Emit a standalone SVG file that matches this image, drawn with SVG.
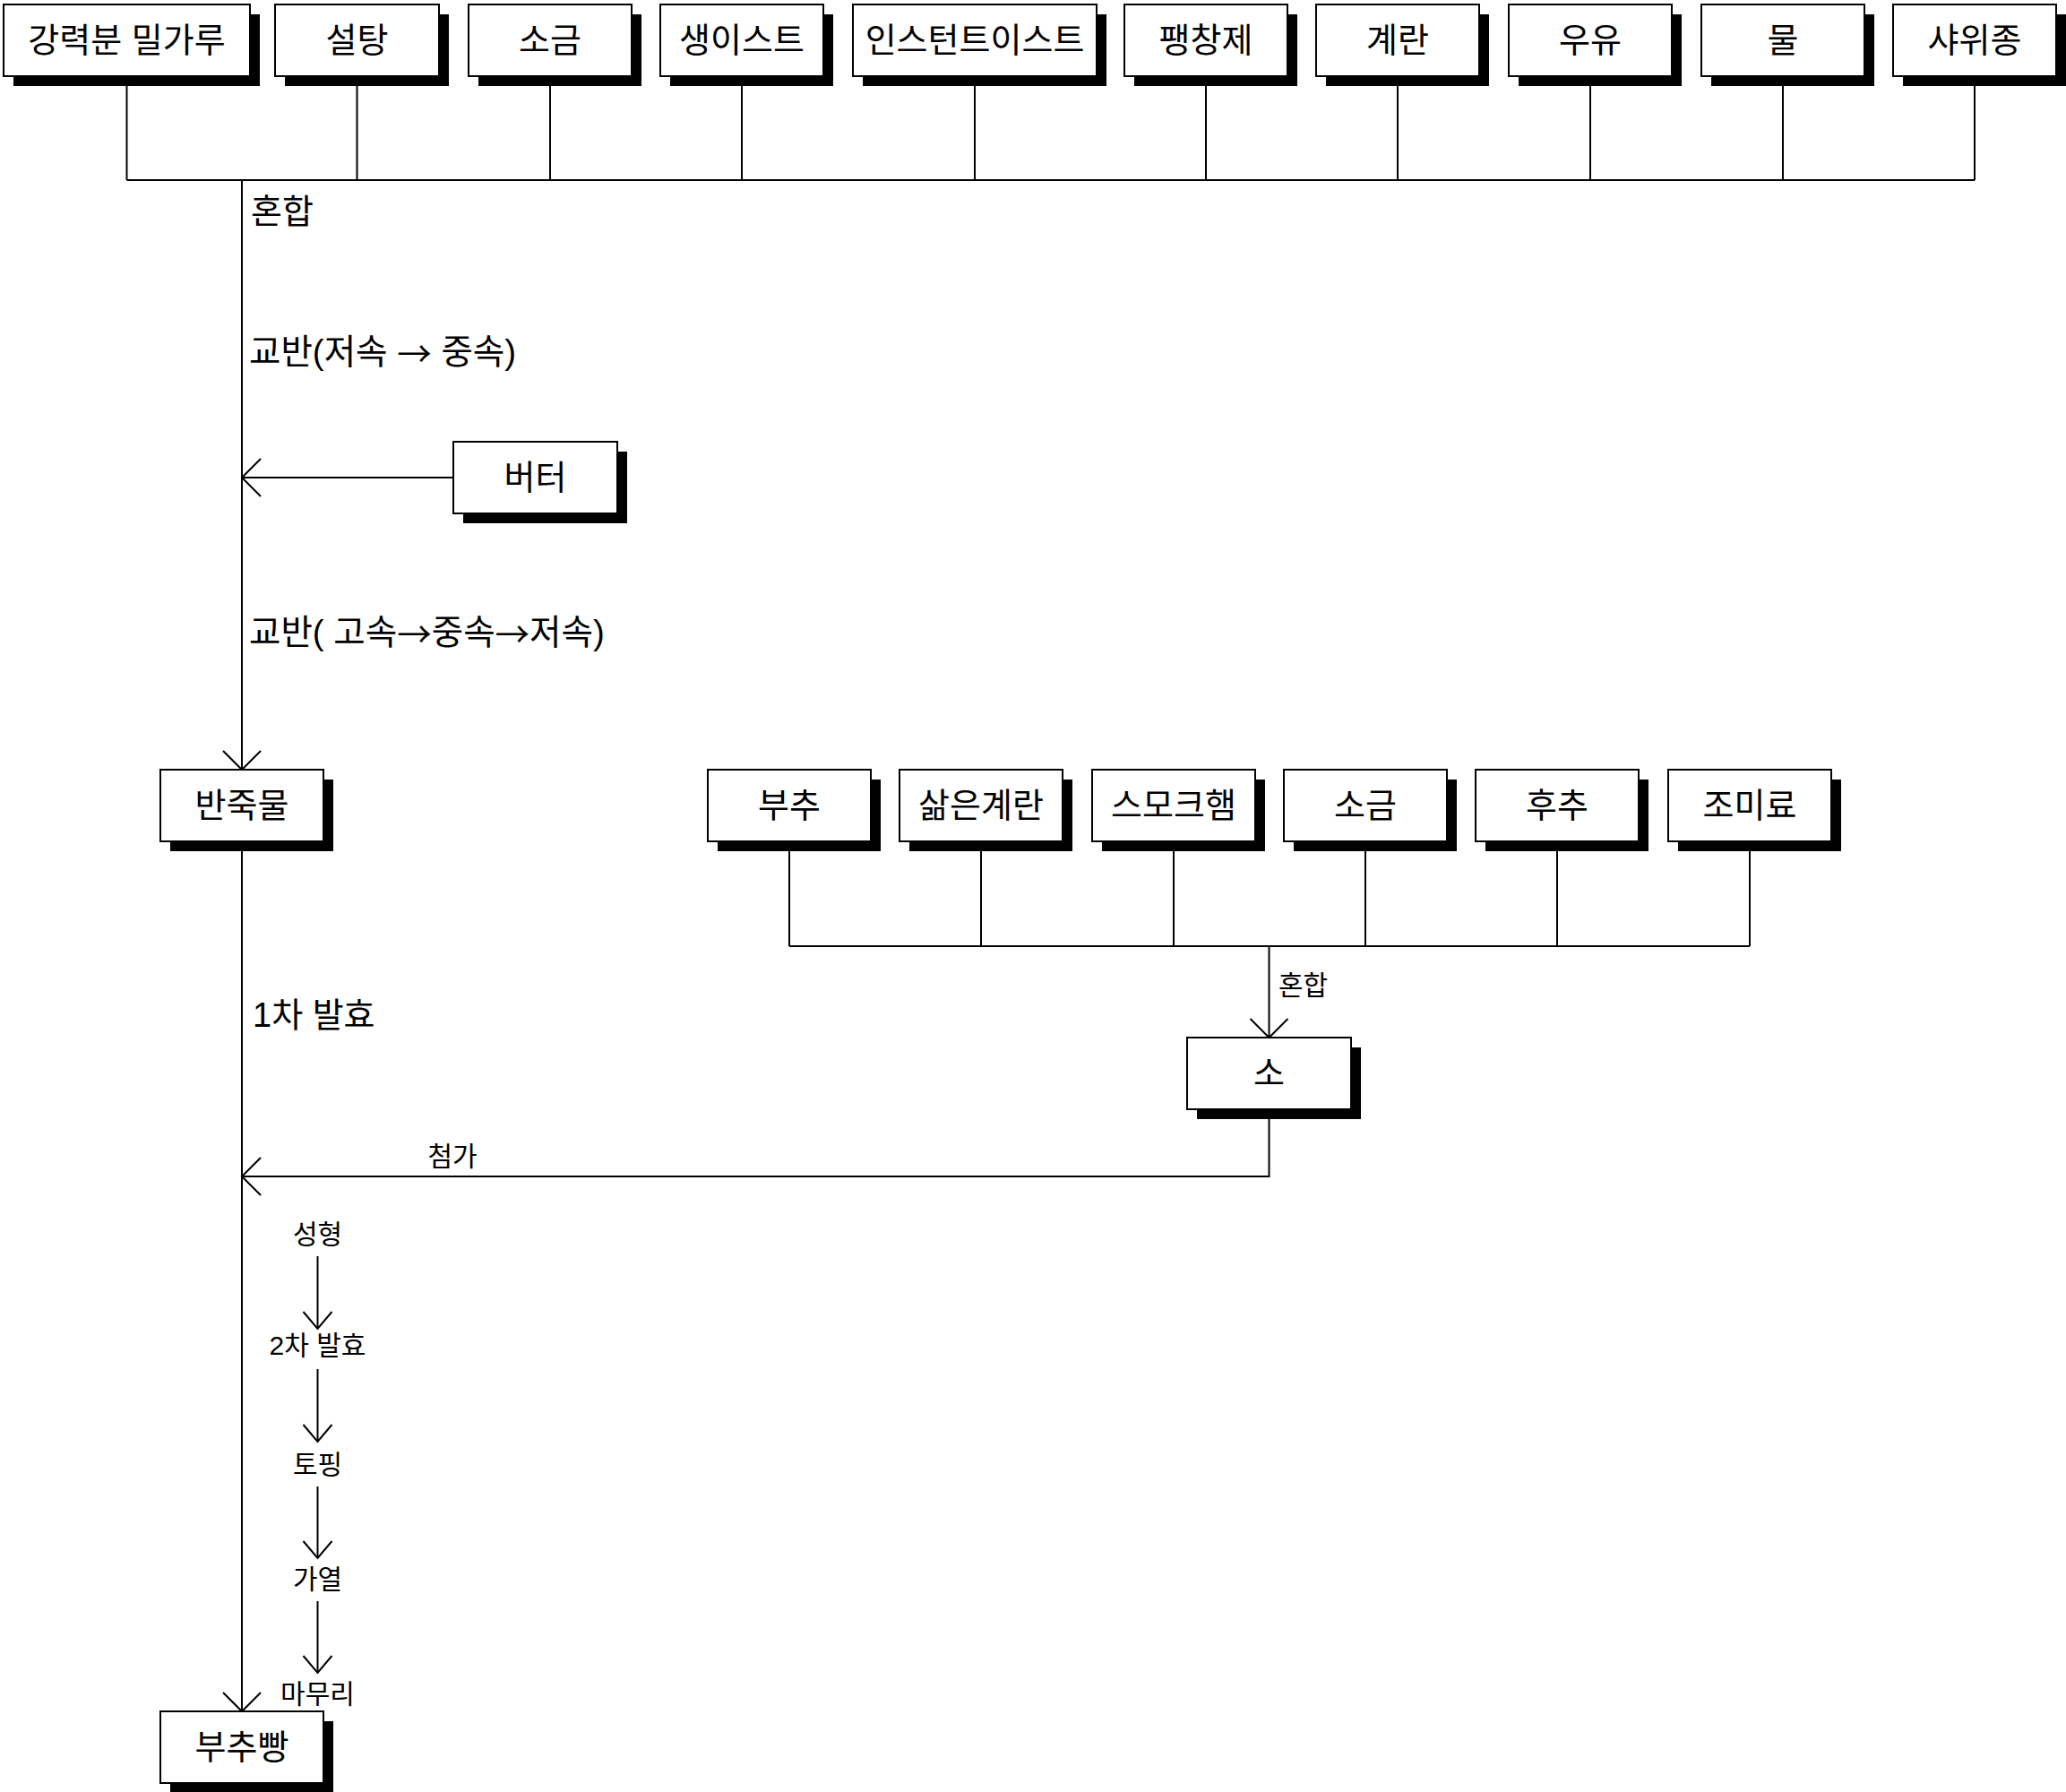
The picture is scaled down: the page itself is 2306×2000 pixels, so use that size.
<svg xmlns="http://www.w3.org/2000/svg" width="2306" height="2000" viewBox="0 0 2306 2000">
<defs>
<style>
.sh{fill:#000}
.bx{fill:#fff;stroke:#000;stroke-width:2}
.t{font-family:"Liberation Sans","Noto Sans CJK KR",sans-serif;font-size:38px;fill:#000;dominant-baseline:central}
.k{font-size:38.5px}
.ar{font-family:"Noto Sans CJK KR",sans-serif}
.c{text-anchor:middle}
.s{font-size:30px}
.ln{fill:none;stroke:#000;stroke-width:2}
</style>
<marker id="arr" markerUnits="userSpaceOnUse" viewBox="-25 -25 28 50" refX="0" refY="0" markerWidth="28" markerHeight="50" orient="auto" overflow="visible">
<path d="M-21,-21 L0,0 L-21,21" fill="none" stroke="#000" stroke-width="2"/>
</marker>
<marker id="arrs" markerUnits="userSpaceOnUse" viewBox="-22 -20 24 40" refX="0" refY="0" markerWidth="24" markerHeight="40" orient="auto" overflow="visible">
<path d="M-19,-16 L0,0 L-19,16" fill="none" stroke="#000" stroke-width="2"/>
</marker>
</defs>
<rect width="2306" height="2000" fill="#fff"/>

<g id="connectors">
<path class="ln" d="M141.5,85V201M398.5,85V201M614,85V201M828,85V201M1088,85V201M1346,85V201M1560,85V201M1775,85V201M1990,85V201M2204,85V201M141.5,201H2204"/>
<path class="ln" d="M270,201V859" marker-end="url(#arr)"/>
<path class="ln" d="M506,533H270" marker-end="url(#arr)"/>
<path class="ln" d="M270,939V1910" marker-end="url(#arr)"/>
<path class="ln" d="M881,939V1056M1095,939V1056M1310,939V1056M1524,939V1056M1738,939V1056M1953,939V1056M881,1056H1953"/>
<path class="ln" d="M1416.5,1056V1158" marker-end="url(#arr)"/>
<path class="ln" d="M1416.5,1238V1313H270" marker-end="url(#arr)"/>
<path class="ln" d="M354.5,1402V1483" marker-end="url(#arrs)"/>
<path class="ln" d="M354.5,1528V1609" marker-end="url(#arrs)"/>
<path class="ln" d="M354.5,1659V1739" marker-end="url(#arrs)"/>
<path class="ln" d="M354.5,1787V1867" marker-end="url(#arrs)"/>
<text class="t" x="280" y="236">혼합</text>
<text class="t k" x="278" y="392">교반(저속 <tspan class="ar">→</tspan> 중속)</text>
<text class="t k" x="278" y="705">교반( 고속<tspan class="ar">→</tspan>중속<tspan class="ar">→</tspan>저속)</text>
<text class="t" x="282" y="1133">1차 발효</text>
<text class="t s" x="1427" y="1099">혼합</text>
<text class="t s c" x="505" y="1290">첨가</text>
<text class="t s c" x="354.5" y="1377">성형</text>
<text class="t s c" x="354.5" y="1501">2차 발효</text>
<text class="t s c" x="354.5" y="1634">토핑</text>
<text class="t s c" x="354.5" y="1762">가열</text>
<text class="t s c" x="354.5" y="1890">마무리</text>
</g>

<g id="n1"><rect class="sh" x="15" y="16" width="275" height="80"/><rect class="bx" x="4" y="5" width="275" height="80"/><text class="t c" x="141.5" y="45">강력분 밀가루</text></g>
<g id="n2"><rect class="sh" x="318" y="16" width="183" height="80"/><rect class="bx" x="307" y="5" width="183" height="80"/><text class="t c" x="398.5" y="45">설탕</text></g>
<g id="n3"><rect class="sh" x="534" y="16" width="182" height="80"/><rect class="bx" x="523" y="5" width="182" height="80"/><text class="t c" x="614" y="45">소금</text></g>
<g id="n4"><rect class="sh" x="748" y="16" width="182" height="80"/><rect class="bx" x="737" y="5" width="182" height="80"/><text class="t c" x="828" y="45">생이스트</text></g>
<g id="n5"><rect class="sh" x="963" y="16" width="272" height="80"/><rect class="bx" x="952" y="5" width="272" height="80"/><text class="t c" x="1088" y="45">인스턴트이스트</text></g>
<g id="n6"><rect class="sh" x="1266" y="16" width="182" height="80"/><rect class="bx" x="1255" y="5" width="182" height="80"/><text class="t c" x="1346" y="45">팽창제</text></g>
<g id="n7"><rect class="sh" x="1480" y="16" width="182" height="80"/><rect class="bx" x="1469" y="5" width="182" height="80"/><text class="t c" x="1560" y="45">계란</text></g>
<g id="n8"><rect class="sh" x="1695" y="16" width="182" height="80"/><rect class="bx" x="1684" y="5" width="182" height="80"/><text class="t c" x="1775" y="45">우유</text></g>
<g id="n9"><rect class="sh" x="1910" y="16" width="182" height="80"/><rect class="bx" x="1899" y="5" width="182" height="80"/><text class="t c" x="1990" y="45">물</text></g>
<g id="n10"><rect class="sh" x="2124" y="16" width="182" height="80"/><rect class="bx" x="2113" y="5" width="182" height="80"/><text class="t c" x="2204" y="45">샤위종</text></g>

<g id="butter"><rect class="sh" x="517" y="504" width="183" height="80"/><rect class="bx" x="506" y="493" width="183" height="80"/><text class="t c" x="597.5" y="533">버터</text></g>
<g id="dough"><rect class="sh" x="190" y="870" width="182" height="80"/><rect class="bx" x="179" y="859" width="182" height="80"/><text class="t c" x="270" y="899">반죽물</text></g>

<g id="m1"><rect class="sh" x="801" y="870" width="182" height="80"/><rect class="bx" x="790" y="859" width="182" height="80"/><text class="t c" x="881" y="899">부추</text></g>
<g id="m2"><rect class="sh" x="1015" y="870" width="182" height="80"/><rect class="bx" x="1004" y="859" width="182" height="80"/><text class="t c" x="1095" y="899">삶은계란</text></g>
<g id="m3"><rect class="sh" x="1230" y="870" width="182" height="80"/><rect class="bx" x="1219" y="859" width="182" height="80"/><text class="t c" x="1310" y="899">스모크햄</text></g>
<g id="m4"><rect class="sh" x="1444" y="870" width="182" height="80"/><rect class="bx" x="1433" y="859" width="182" height="80"/><text class="t c" x="1524" y="899">소금</text></g>
<g id="m5"><rect class="sh" x="1658" y="870" width="182" height="80"/><rect class="bx" x="1647" y="859" width="182" height="80"/><text class="t c" x="1738" y="899">후추</text></g>
<g id="m6"><rect class="sh" x="1873" y="870" width="182" height="80"/><rect class="bx" x="1862" y="859" width="182" height="80"/><text class="t c" x="1953" y="899">조미료</text></g>

<g id="filling"><rect class="sh" x="1336" y="1169" width="183" height="80"/><rect class="bx" x="1325" y="1158" width="183" height="80"/><text class="t c" x="1416.5" y="1198">소</text></g>
<g id="bread"><rect class="sh" x="190" y="1921" width="182" height="80"/><rect class="bx" x="179" y="1910" width="182" height="80"/><text class="t c" x="270" y="1950">부추빵</text></g>
</svg>
